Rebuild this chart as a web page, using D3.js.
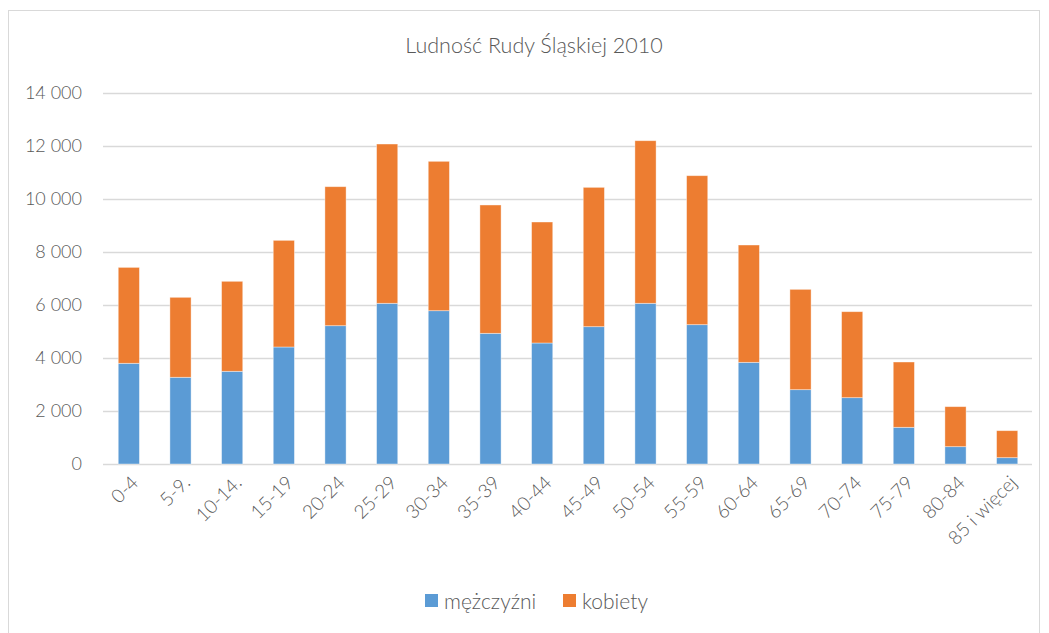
<!DOCTYPE html>
<html>
<head>
<meta charset="utf-8">
<script src="https://cdn.jsdelivr.net/npm/d3@7"></script>
<style>
    body { margin: 0; background: #fff; }
    text { font-family: Lato, "Open Sans", sans-serif; fill: #595959; }
</style>
</head>
<body>
<div id="chart"></div>
<script>

var categories = ["0-4", "5-9.", "10-14.", "15-19", "20-24", "25-29", "30-34", "35-39", "40-44",
    "45-49", "50-54", "55-59", "60-64", "65-69", "70-74", "75-79", "80-84", "85 i więcej"];

var men = [3800, 3272, 3498, 4415, 5219, 6064, 5785, 4931, 4566,
    5182, 6064, 5258, 3836, 2805, 2503, 1384, 654, 239];

var women = [3620, 3018, 3396, 4025, 5246, 6011, 5637, 4843, 4566,
    5258, 6136, 5622, 4428, 3786, 3245, 2465, 1510, 1019];

var seriesNames = ["mężczyźni", "kobiety"];
var seriesColors = ["#5b9bd5", "#ed7d31"];
var yTicks = [0, 2000, 4000, 6000, 8000, 10000, 12000, 14000];

var width = 1049, height = 633;
var margin = { top: 93, bottom: 169, left: 103, right: 16 };

var svg = d3.select("#chart")
    .append("svg")
    .attr("width", width)
    .attr("height", height);

// outer frame
svg.append("rect")
    .attr("x", 8.5)
    .attr("y", 10.5)
    .attr("width", 1031)
    .attr("height", 640)
    .attr("fill", "none")
    .attr("stroke", "#d9d9d9");

svg.append("text")
    .attr("x", 534)
    .attr("y", 53)
    .attr("text-anchor", "middle")
    .attr("font-size", "21.5px")
    .attr("font-weight", 300)
    .text("Ludność Rudy Śląskiej 2010");

var x = d3.scaleBand()
    .domain(categories)
    .range([margin.left, width - margin.right])
    .paddingInner(0.59)
    .paddingOuter(0.295);

var y = d3.scaleLinear()
    .domain([0, 14000])
    .range([height - margin.bottom, margin.top]);

var fmt = d3.formatLocale({ decimal: ",", thousands: " ", grouping: [3], currency: ["", ""] }).format(",d");

var grid = svg.append("g");

grid.selectAll("line")
    .data(yTicks)
    .enter().append("line")
    .attr("x1", margin.left)
    .attr("x2", width - margin.right - 1)
    .attr("y1", function (d) { return Math.round(y(d)) + 0.5; })
    .attr("y2", function (d) { return Math.round(y(d)) + 0.5; })
    .attr("stroke", "#d9d9d9")
    .attr("stroke-width", 1.3);

svg.append("g")
    .selectAll("text")
    .data(yTicks)
    .enter().append("text")
    .attr("x", 82)
    .attr("y", function (d) { return y(d); })
    .attr("dy", "0.36em")
    .attr("text-anchor", "end")
    .attr("font-size", "18px")
    .attr("font-weight", 300)
    .text(fmt);

var rows = categories.map(function (c, i) {
    return { cat: c, "mężczyźni": men[i], "kobiety": women[i] };
});

var stacked = d3.stack().keys(seriesNames)(rows);

svg.append("g")
    .selectAll("g")
    .data(stacked)
    .enter().append("g")
    .attr("fill", function (d, i) { return seriesColors[i]; })
    .selectAll("rect")
    .data(function (d) { return d; })
    .enter().append("rect")
    .attr("x", function (d) { return x(d.data.cat); })
    .attr("width", x.bandwidth())
    .attr("y", function (d) { return y(d[1]); })
    .attr("height", function (d) { return y(d[0]) - y(d[1]); })
    .attr("stroke", "#fff")
    .attr("stroke-opacity", 0.5)
    .attr("stroke-width", 0.8);

svg.append("g")
    .selectAll("text")
    .data(categories)
    .enter().append("text")
    .attr("text-anchor", "end")
    .attr("font-size", "19px")
    .attr("font-weight", 300)
    .attr("transform", function (d) {
        return "translate(" + (x(d) + x.bandwidth() / 2 + 6) + "," + (height - margin.bottom + 15) + ") rotate(-45)";
    })
    .attr("dy", "0.36em")
    .text(function (d) { return d; });

// legend
var legendX = [425, 563];
var legend = svg.append("g")
    .selectAll("g")
    .data(seriesNames)
    .enter().append("g")
    .attr("transform", function (d, i) { return "translate(" + legendX[i] + ",594)"; });

legend.append("rect")
    .attr("width", 13)
    .attr("height", 13)
    .attr("fill", function (d, i) { return seriesColors[i]; });

legend.append("text")
    .attr("x", 19)
    .attr("y", 7)
    .attr("dy", "0.36em")
    .attr("font-size", "21px")
    .attr("font-weight", 300)
    .text(function (d) { return d; });

</script>
</body>
</html>
